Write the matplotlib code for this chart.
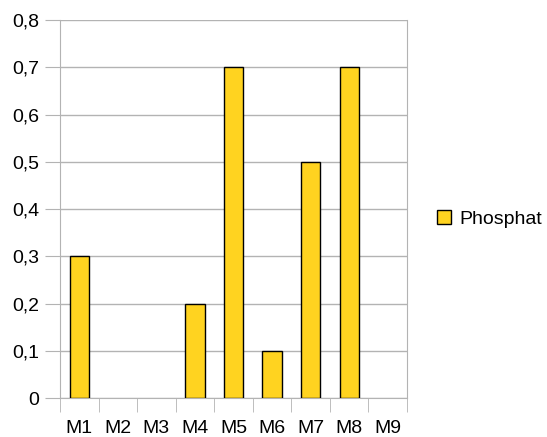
import numpy as np
import matplotlib.pyplot as plt
from matplotlib.patches import Patch

plt.rcParams['font.family'] = ['Liberation Sans', 'DejaVu Sans']

proben = ['M1', 'M2', 'M3', 'M4', 'M5', 'M6', 'M7', 'M8', 'M9']
phosphat = [0.3, 0, 0, 0.2, 0.7, 0.1, 0.5, 0.7, 0]
y_ticks = [0, 0.1, 0.2, 0.3, 0.4, 0.5, 0.6, 0.7, 0.8]

fig = plt.figure(figsize=(5.47, 4.37), dpi=100)
ax = fig.add_axes([0.1097, 0.0892, 0.6344, 0.8650])

x = np.arange(len(proben))
# Nullwerte ohne Rand, sonst liegt eine schwarze Linie auf der Achse
kanten = ['black' if v > 0 else 'none' for v in phosphat]
ax.bar(x, phosphat, width=0.5, color='#ffd320', edgecolor=kanten, linewidth=1, zorder=3)

ax.set_xlim(-0.5, len(proben) - 0.5)
ax.set_ylim(0, 0.8)
ax.set_yticks(y_ticks)
ax.set_yticklabels([('%.1f' % v).replace('.', ',') if v else '0' for v in y_ticks])
ax.set_xticks(x)
ax.set_xticklabels(proben)
ax.set_xticks(np.arange(len(proben) + 1) - 0.5, minor=True)

grau = '#b3b3b3'
ax.grid(axis='y', color=grau, linewidth=1, zorder=0)
for s in ax.spines.values():
    s.set_color(grau)
ax.spines['top'].set_visible(False)
ax.tick_params(axis='y', length=11, color=grau, labelsize=14, pad=4)
ax.tick_params(axis='x', which='major', length=0, labelsize=14, pad=16)
ax.tick_params(axis='x', which='minor', length=10, color=grau)

ax.legend(handles=[Patch(facecolor='#ffd320', edgecolor='black', label='Phosphat')],
          loc='center left', bbox_to_anchor=(1.035, 0.474), frameon=False,
          fontsize=14, handlelength=0.75, handleheight=0.75, handletextpad=0.4)

fig.savefig('out.png', dpi=100)
